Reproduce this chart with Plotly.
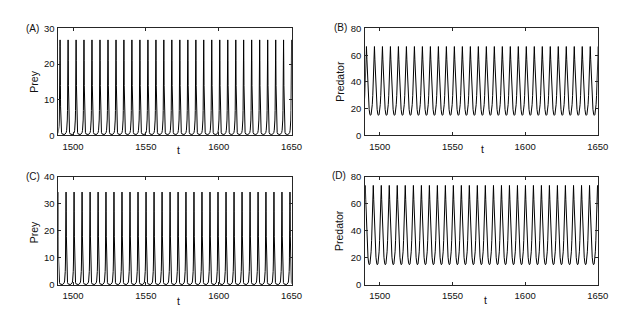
import plotly.graph_objects as go

# ---------------- data ----------------
# times of the peaks of each oscillation
peaks_A = [1491.1, 1496.6, 1502.1, 1507.5, 1513.0, 1518.5, 1524.0, 1529.5, 1534.9, 1540.4,
           1545.9, 1551.4, 1556.9, 1562.3, 1567.8, 1573.3, 1578.8, 1584.3, 1589.7, 1595.2,
           1600.7, 1606.2, 1611.7, 1617.1, 1622.6, 1628.1, 1633.6, 1639.1, 1644.5, 1650.0]
peaks_B = [1490.8, 1496.3, 1501.8, 1507.3, 1512.8, 1518.3, 1523.8, 1529.3, 1534.8, 1540.3,
           1545.8, 1551.3, 1556.8, 1562.3, 1567.8, 1573.3, 1578.8, 1584.3, 1589.8, 1595.3,
           1600.8, 1606.3, 1611.8, 1617.3, 1622.8, 1628.3, 1633.8, 1639.3, 1644.8, 1650.3]
peaks_C = [1489.7, 1495.2, 1500.7, 1506.2, 1511.7, 1517.2, 1522.6, 1528.1, 1533.6, 1539.1,
           1544.6, 1550.1, 1555.6, 1561.1, 1566.6, 1572.1, 1577.5, 1583.0, 1588.5, 1594.0,
           1599.5, 1605.0, 1610.5, 1616.0, 1621.5, 1627.0, 1632.4, 1637.9, 1643.4, 1648.9]
peaks_D = [1490.0, 1495.5, 1501.0, 1506.5, 1512.0, 1517.5, 1523.1, 1528.6, 1534.1, 1539.6,
           1545.1, 1550.6, 1556.1, 1561.6, 1567.1, 1572.6, 1578.2, 1583.7, 1589.2, 1594.7,
           1600.2, 1605.7, 1611.2, 1616.7, 1622.2, 1627.7, 1633.3, 1638.8, 1644.3, 1649.8]

# shape of one cycle around a peak: time offsets and values
prey_offsets = [-2.75, -2.2, -1.7, -1.3, -1.0, -0.75, -0.55, -0.4, -0.28, -0.18, -0.1, -0.04,
                0.0, 0.05, 0.12, 0.22, 0.35, 0.5, 0.7, 1.0, 1.4, 1.9, 2.4, 2.75]
prey_cycle_A = [0.25, 0.3, 0.45, 0.8, 1.4, 2.5, 4.3, 7.0, 11.0, 16.0, 21.0, 25.0,
                26.8, 25.5, 21.0, 14.0, 8.0, 4.0, 1.8, 0.8, 0.4, 0.3, 0.25, 0.25]
prey_cycle_C = [0.2, 0.25, 0.4, 0.8, 1.5, 2.8, 5.0, 8.5, 13.5, 20.0, 27.0, 32.0,
                34.3, 32.5, 27.0, 18.0, 10.0, 5.0, 2.2, 0.9, 0.4, 0.25, 0.2, 0.2]

pred_offsets = [-2.75, -2.3, -1.9, -1.5, -1.15, -0.85, -0.55, -0.3, 0.0,
                0.3, 0.6, 0.95, 1.35, 1.85, 2.3, 2.75]
pred_cycle_B = [15.0, 15.6, 18.0, 23.0, 30.0, 39.0, 49.0, 58.0, 66.5,
                57.0, 47.0, 37.0, 27.0, 19.5, 16.0, 15.0]
pred_cycle_D = [15.0, 15.6, 18.5, 24.5, 33.0, 43.0, 54.0, 64.0, 73.5,
                63.0, 51.0, 40.0, 29.0, 20.5, 16.3, 15.0]

x_ticks = [1500, 1550, 1600, 1650]
y_ticks_A = [0, 10, 20, 30]
y_ticks_B = [0, 20, 40, 60, 80]
y_ticks_C = [0, 10, 20, 30, 40]
y_ticks_D = [0, 20, 40, 60, 80]


def build(peaks, offsets, cycle):
    xs, ys = [], []
    for tp in peaks:
        for o, v in zip(offsets, cycle):
            xs.append(tp + o)
            ys.append(v)
    return xs, ys


W, H = 638, 319
fig = go.Figure()

panels = [
    ("x", "y", peaks_A, prey_offsets, prey_cycle_A),
    ("x2", "y2", peaks_B, pred_offsets, pred_cycle_B),
    ("x3", "y3", peaks_C, prey_offsets, prey_cycle_C),
    ("x4", "y4", peaks_D, pred_offsets, pred_cycle_D),
]
for xa, ya, pk, off, cyc in panels:
    xs, ys = build(pk, off, cyc)
    fig.add_trace(go.Scatter(x=xs, y=ys, mode="lines", xaxis=xa, yaxis=ya,
                             line=dict(color="black", width=1), showlegend=False,
                             hoverinfo="skip"))

axcol = "#262626"
font_tick = dict(family="Liberation Sans, Arial, sans-serif", size=9.5, color="#111")

def xaxis(domain, anchor):
    return dict(domain=domain, anchor=anchor, range=[1490, 1650], tickvals=x_ticks,
                showline=True, linecolor=axcol, linewidth=1, mirror="ticks",
                ticks="inside", ticklen=3, tickcolor=axcol, showgrid=False,
                zeroline=False, tickfont=font_tick, ticklabelstandoff=2)

def yaxis(domain, anchor, rng, tv):
    return dict(domain=domain, anchor=anchor, range=rng, tickvals=tv,
                showline=True, linecolor=axcol, linewidth=1, mirror="ticks",
                ticks="inside", ticklen=3, tickcolor=axcol, showgrid=False,
                zeroline=False, tickfont=font_tick, ticklabelstandoff=1)

xl = [59.5 / W, 296.7 / W]
xr = [371.7 / W, 608.3 / W]
yt = [1 - 134 / H, 1 - 23.3 / H]
yb = [1 - 289 / H, 1 - 176.7 / H]

fig.update_layout(
    width=W, height=H, margin=dict(l=0, r=0, t=0, b=0),
    paper_bgcolor="white", plot_bgcolor="white",
    xaxis=xaxis(xl, "y"), yaxis=yaxis(yt, "x", [0, 30], y_ticks_A),
    xaxis2=xaxis(xr, "y2"), yaxis2=yaxis(yt, "x2", [0, 80], y_ticks_B),
    xaxis3=xaxis(xl, "y3"), yaxis3=yaxis(yb, "x3", [0, 40], y_ticks_C),
    xaxis4=xaxis(xr, "y4"), yaxis4=yaxis(yb, "x4", [0, 80], y_ticks_D),
)

font_lab = dict(family="Liberation Sans, Arial, sans-serif", size=10.5, color="#111")
font_pan = dict(family="Liberation Sans, Arial, sans-serif", size=10, color="#111")

def ann(text, px, py, font, angle=0):
    fig.add_annotation(text=text, x=px / W, y=1 - py / H, xref="paper", yref="paper",
                       showarrow=False, font=font, textangle=angle,
                       xanchor="center", yanchor="middle")

# x titles
ann("t", 182, 149.5, font_lab)
ann("t", 491, 148.5, font_lab)
ann("t", 182, 306, font_lab)
ann("t", 494.5, 304, font_lab)
# y titles
ann("Prey", 35, 78, font_lab, -90)
ann("Predator", 346.5, 78, font_lab, -90)
ann("Prey", 35, 234, font_lab, -90)
ann("Predator", 345, 233, font_lab, -90)
# panel labels
ann("(A)", 33.3, 23.3, font_pan)
ann("(B)", 346.7, 22.7, font_pan)
ann("(C)", 33.5, 176.7, font_pan)
ann("(D)", 345, 176, font_pan)

fig.write_html("out.html", config={"displayModeBar": False},
               post_script="document.body.style.margin='0';document.body.style.overflow='hidden';")
